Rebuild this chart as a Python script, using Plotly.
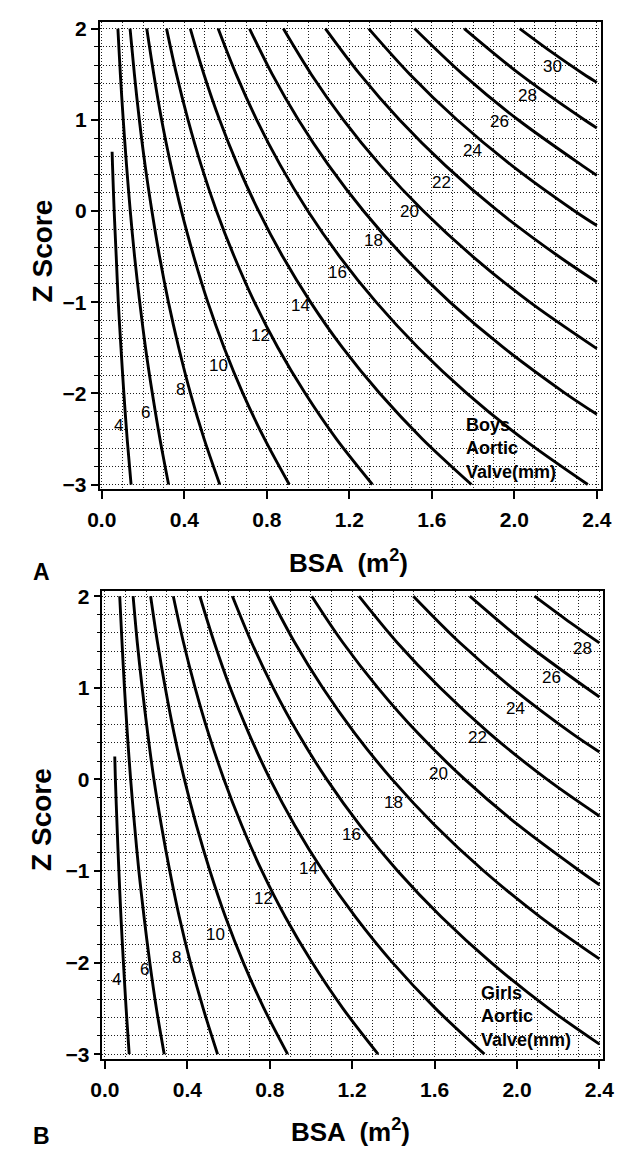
import plotly.graph_objects as go

W, H = 624, 1151
FONT = "Liberation Sans, Arial, Helvetica, sans-serif"

DIAMS_BOYS = [4, 6, 8, 10, 12, 14, 16, 18, 20, 22, 24, 26, 28, 30]
DIAMS_GIRLS = [4, 6, 8, 10, 12, 14, 16, 18, 20, 22, 24, 26, 28]
Z_FULL = [2.0, 1.5, 1.0, 0.5, 0.0, -0.5, -1.0, -1.5, -2.0, -2.5, -3.0]

X_TICKS = [0.0, 0.4, 0.8, 1.2, 1.6, 2.0, 2.4]
Y_TICKS = [-3, -2, -1, 0, 1, 2]

# Boys aortic valve iso-diameter lines: BSA (m2)
boys_bsa = {
    4: [0.050, 0.052, 0.060, 0.070, 0.080, 0.093, 0.107, 0.123, 0.142],
    6: [0.078, 0.090, 0.104, 0.120, 0.138, 0.159, 0.184, 0.212, 0.245, 0.282, 0.324],
    8: [0.137, 0.158, 0.182, 0.210, 0.243, 0.280, 0.323, 0.373, 0.430, 0.496, 0.572],
    10: [0.218, 0.252, 0.290, 0.335, 0.386, 0.446, 0.514, 0.593, 0.684, 0.789, 0.909],
    12: [0.314, 0.362, 0.418, 0.482, 0.556, 0.642, 0.740, 0.854, 0.986, 1.137, 1.312],
    14: [0.429, 0.495, 0.571, 0.659, 0.760, 0.877, 1.012, 1.167, 1.347, 1.554, 1.792],
    16: [0.564, 0.651, 0.751, 0.866, 0.999, 1.153, 1.330, 1.534, 1.770, 2.042, 2.356],
    18: [0.716, 0.826, 0.953, 1.100, 1.269, 1.463, 1.688, 1.948, 2.247, 2.400],
    20: [0.880, 1.015, 1.171, 1.351, 1.559, 1.799, 2.075, 2.400],
    22: [1.084, 1.251, 1.443, 1.665, 1.920, 2.216, 2.400],
    24: [1.294, 1.493, 1.722, 1.987, 2.292, 2.400],
    26: [1.516, 1.749, 2.018, 2.328, 2.400],
    28: [1.757, 2.027, 2.339, 2.400],
    30: [2.026, 2.176, 2.337, 2.400],
}
boys_z = {
    4: [0.65, 0.5, 0.0, -0.5, -1.0, -1.5, -2.0, -2.5, -3.0],
    6: Z_FULL, 8: Z_FULL, 10: Z_FULL, 12: Z_FULL, 14: Z_FULL, 16: Z_FULL,
    18: [2.0, 1.5, 1.0, 0.5, 0.0, -0.5, -1.0, -1.5, -2.0, -2.23],
    20: [2.0, 1.5, 1.0, 0.5, 0.0, -0.5, -1.0, -1.51],
    22: [2.0, 1.5, 1.0, 0.5, 0.0, -0.5, -0.78],
    24: [2.0, 1.5, 1.0, 0.5, 0.0, -0.16],
    26: [2.0, 1.5, 1.0, 0.5, 0.39],
    28: [2.0, 1.5, 1.0, 0.91],
    30: [2.0, 1.75, 1.5, 1.41],
}

# Girls aortic valve iso-diameter lines
girls_bsa = {
    4: [0.048, 0.051, 0.059, 0.068, 0.078, 0.090, 0.103, 0.118],
    6: [0.072, 0.083, 0.095, 0.109, 0.125, 0.144, 0.165, 0.190, 0.218, 0.250, 0.288],
    8: [0.137, 0.157, 0.181, 0.208, 0.238, 0.274, 0.315, 0.361, 0.415, 0.477, 0.547],
    10: [0.222, 0.255, 0.293, 0.336, 0.386, 0.444, 0.510, 0.585, 0.672, 0.772, 0.887],
    12: [0.332, 0.381, 0.438, 0.503, 0.578, 0.664, 0.762, 0.875, 1.006, 1.155, 1.326],
    14: [0.461, 0.530, 0.608, 0.699, 0.802, 0.921, 1.058, 1.216, 1.396, 1.604, 1.842],
    16: [0.619, 0.711, 0.817, 0.938, 1.077, 1.237, 1.421, 1.632, 1.875, 2.153, 2.400],
    18: [0.801, 0.920, 1.057, 1.214, 1.394, 1.601, 1.839, 2.112, 2.400],
    20: [1.004, 1.153, 1.325, 1.521, 1.747, 2.007, 2.305, 2.400],
    22: [1.233, 1.416, 1.627, 1.868, 2.146, 2.400],
    24: [1.497, 1.719, 1.975, 2.268, 2.400],
    26: [1.771, 2.034, 2.336, 2.400],
    28: [2.085, 2.235, 2.400],
}
girls_z = {
    4: [0.25, 0.0, -0.5, -1.0, -1.5, -2.0, -2.5, -3.0],
    6: Z_FULL, 8: Z_FULL, 10: Z_FULL, 12: Z_FULL, 14: Z_FULL,
    16: [2.0, 1.5, 1.0, 0.5, 0.0, -0.5, -1.0, -1.5, -2.0, -2.5, -2.89],
    18: [2.0, 1.5, 1.0, 0.5, 0.0, -0.5, -1.0, -1.5, -1.96],
    20: [2.0, 1.5, 1.0, 0.5, 0.0, -0.5, -1.0, -1.15],
    22: [2.0, 1.5, 1.0, 0.5, 0.0, -0.40],
    24: [2.0, 1.5, 1.0, 0.5, 0.30],
    26: [2.0, 1.5, 1.0, 0.90],
    28: [2.0, 1.75, 1.49],
}

# curve labels (BSA, Z of label centre)
boys_lab_x = [0.080, 0.210, 0.381, 0.567, 0.769, 0.963, 1.142, 1.316, 1.492, 1.647, 1.795, 1.927, 2.063, 2.183]
boys_lab_z = [-2.35, -2.21, -1.96, -1.70, -1.365, -1.04, -0.68, -0.32, -0.01, 0.31, 0.66, 0.98, 1.27, 1.58]
girls_lab_x = [0.058, 0.191, 0.350, 0.537, 0.770, 0.988, 1.198, 1.400, 1.618, 1.809, 1.992, 2.168, 2.317]
girls_lab_z = [-2.19, -2.08, -1.945, -1.69, -1.30, -0.97, -0.60, -0.255, 0.06, 0.46, 0.775, 1.11, 1.434]

panels = [
    dict(bsa=boys_bsa, z=boys_z, diams=DIAMS_BOYS, lx=boys_lab_x, lz=boys_lab_z,
         xa="x", ya="y", box=(82.7, 604.0, 8.3, 480.5), xr=[-0.011, 2.419], yr=[-3.05, 2.07],
         note="Boys<br>Aortic<br>Valve(mm)", note_xy=(1.758, -2.60),
         letter="A", title_y=554, letter_y=564, zs_y=240),
    dict(bsa=girls_bsa, z=girls_z, diams=DIAMS_GIRLS, lx=girls_lab_x, lz=girls_lab_z,
         xa="x2", ya="y2", box=(85.7, 605.8, 583.3, 1056.7), xr=[-0.012, 2.415], yr=[-3.05, 2.06],
         note="Girls<br>Aortic<br>Valve(mm)", note_xy=(1.816, -2.59),
         letter="B", title_y=1129, letter_y=1135, zs_y=815),
]

fig = go.Figure()
annotations = []
layout = {}

grid = dict(showgrid=True, gridcolor="#1e1e1e", gridwidth=1, griddash="1px,2px")

for i, p in enumerate(panels):
    for d in p["diams"]:
        fig.add_trace(go.Scatter(
            x=p["bsa"][d], y=p["z"][d], mode="lines",
            line=dict(color="black", width=2.9, shape="spline", smoothing=0.9),
            xaxis=p["xa"], yaxis=p["ya"], showlegend=False, hoverinfo="skip"))
    for d, lx, lz in zip(p["diams"], p["lx"], p["lz"]):
        annotations.append(dict(x=lx, y=lz, xref=p["xa"], yref=p["ya"], text=str(d),
                                showarrow=False, font=dict(family=FONT, size=17, color="black")))
    annotations.append(dict(x=p["note_xy"][0], y=p["note_xy"][1], xref=p["xa"], yref=p["ya"],
                            text="<b>" + p["note"].replace("<br>", "</b><br><b>") + "</b>",
                            showarrow=False, xanchor="left", yanchor="middle", align="left",
                            font=dict(family=FONT, size=18, color="black")))
    l, r, t, b = p["box"]
    xdom = [l / W, r / W]
    ydom = [1 - b / H, 1 - t / H]
    xkey = "xaxis" if i == 0 else "xaxis2"
    ykey = "yaxis" if i == 0 else "yaxis2"
    layout[xkey] = dict(
        domain=xdom, range=p["xr"], anchor=p["ya"], tickmode="array", tickvals=X_TICKS,
        ticktext=["<b>%.1f</b>" % v for v in X_TICKS], ticks="outside", ticklen=8, tickwidth=1.5,
        tickcolor="black", showline=True, linecolor="black", linewidth=1.5, mirror=True,
        zeroline=False, ticklabelstandoff=3,
        tickfont=dict(family=FONT, size=21, color="black"),
        minor=dict(tickmode="linear", tick0=0, dtick=0.1, ticks="", **grid), **grid)
    layout[ykey] = dict(
        domain=ydom, range=p["yr"], anchor=p["xa"], tickmode="array", tickvals=Y_TICKS,
        ticktext=[("<b>\u2212%d</b>" % -v) if v < 0 else "<b>%d</b>" % v for v in Y_TICKS],
        ticks="outside", ticklen=7, tickwidth=1.5, tickcolor="black",
        showline=True, linecolor="black", linewidth=1.5, mirror=True, zeroline=False,
        tickfont=dict(family=FONT, size=21, color="black"),
        minor=dict(tickmode="linear", tick0=0, dtick=0.2, ticks="outside", ticklen=4,
                   tickcolor="black", tickwidth=1, **grid), **grid)
    # axis titles and panel letters
    annotations.append(dict(x=((l + r) / 2 - 2) / W, y=1 - p["title_y"] / H, xref="paper", yref="paper",
                            text="<b>BSA  (m<sup>2</sup>)</b>", showarrow=False, xanchor="center", yanchor="middle",
                            font=dict(family=FONT, size=26, color="black")))
    annotations.append(dict(x=22 / W, y=1 - p["letter_y"] / H, xref="paper", yref="paper",
                            text="<b>%s</b>" % p["letter"], showarrow=False, xanchor="center", yanchor="middle",
                            font=dict(family=FONT, size=23, color="black")))
    annotations.append(dict(x=23 / W, y=1 - p["zs_y"] / H, xref="paper", yref="paper",
                            text="<b>Z Score</b>", showarrow=False, textangle=-90, xanchor="center", yanchor="middle",
                            font=dict(family=FONT, size=28, color="black")))

fig.update_layout(width=W, height=H, margin=dict(l=0, r=0, t=0, b=0),
                  paper_bgcolor="white", plot_bgcolor="white",
                  annotations=annotations, **layout)
fig.write_html("out.html")
